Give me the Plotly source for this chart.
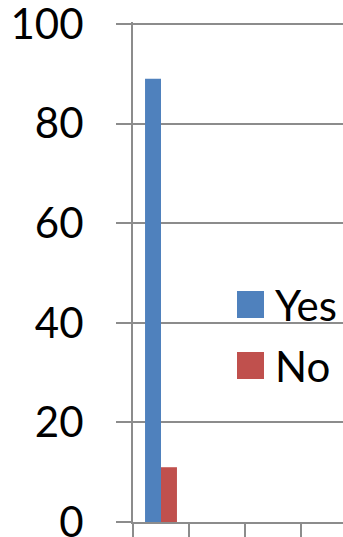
import plotly.graph_objects as go

# Survey answers, one group per category; only the first category has responses
categories = ["Q1", "Q2", "Q3", "Q4"]
series_names = ["Yes", "No"]
yes_values = [89]
no_values = [11]
y_ticks = [0, 20, 40, 60, 80, 100]

colors = {"Yes": "#4F81BD", "No": "#C0504D"}
grid = "#8C8C8C"
font = dict(family="Lato", size=42, color="#000000")

W, H = 343, 537
left, top, bottom = 133, 22, 15
y_max = 100.4  # a little headroom so the 100 gridline is drawn
plot_w = W - left
plot_h = H - top - bottom


def px_x(x):
    return (x - left) / plot_w


def px_y(y):
    return (H - bottom - y) / plot_h


fig = go.Figure()
fig.add_trace(go.Bar(name=series_names[0], x=categories[:1], y=yes_values,
                     marker=dict(color=colors["Yes"], line=dict(width=0))))
fig.add_trace(go.Bar(name=series_names[1], x=categories[:1], y=no_values,
                     marker=dict(color=colors["No"], line=dict(width=0))))

# Hand-drawn legend with large swatches
for i, name in enumerate(series_names):
    y0 = 291 + i * 61
    fig.add_shape(type="rect", xref="paper", yref="paper",
                  x0=px_x(237), x1=px_x(264), y0=px_y(y0 + 27), y1=px_y(y0),
                  fillcolor=colors[name], line=dict(width=0), layer="above")
    fig.add_annotation(text=name, xref="paper", yref="paper",
                       x=px_x(274), y=px_y(y0 + 13.5), xanchor="left",
                       yanchor="middle", showarrow=False, font=font,
                       borderpad=0)

fig.update_layout(
    width=W, height=H,
    margin=dict(l=left, r=0, t=top, b=bottom, pad=0, autoexpand=False),
    paper_bgcolor="#FFFFFF", plot_bgcolor="#FFFFFF",
    barmode="group", bargap=0.43, bargroupgap=0,
    showlegend=False, font=font,
)
fig.update_xaxes(
    type="category", categoryorder="array", categoryarray=categories,
    range=[-0.5, 3.25], showticklabels=False, showgrid=False,
    tickson="boundaries", ticks="outside", ticklen=15, tickwidth=2,
    tickcolor=grid, showline=True, linecolor=grid, linewidth=2,
    zeroline=False, automargin=False,
)
fig.update_yaxes(
    range=[0, y_max], tickvals=y_ticks, ticks="outside", ticklen=15,
    tickwidth=2, tickcolor=grid, showgrid=True, gridcolor=grid, gridwidth=2,
    showline=True, linecolor=grid, linewidth=2, zeroline=False,
    ticklabelstandoff=24, tickfont=font, ticklabeloverflow="allow",
    automargin=False,
)

fig.write_html("out.html")
